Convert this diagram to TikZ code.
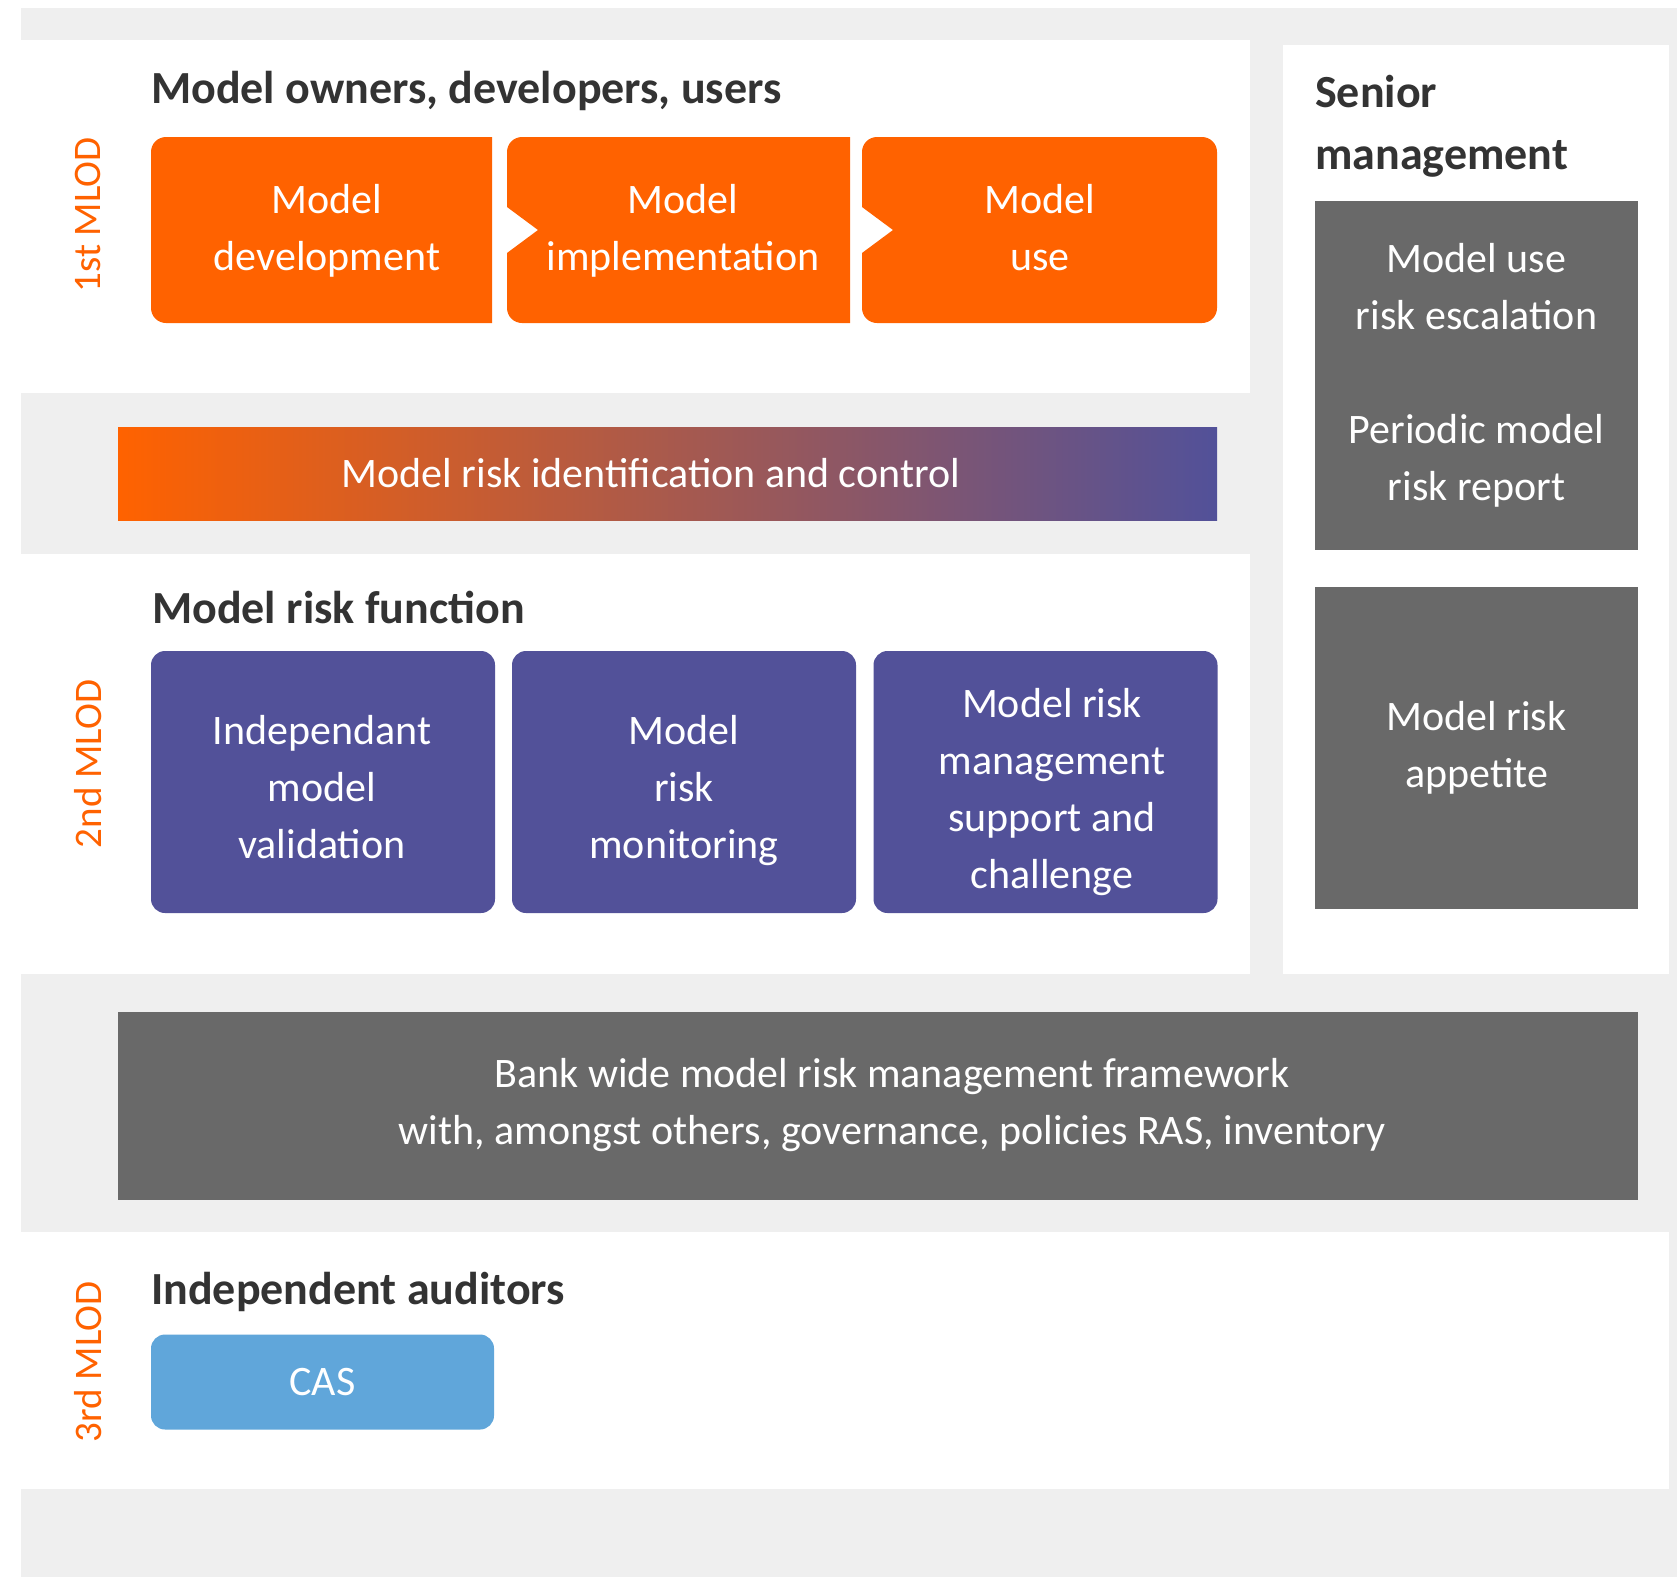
\documentclass[tikz,border=0pt]{standalone}
\usepackage{fontspec}
\setmainfont{Carlito}

\definecolor{ingorange}{HTML}{FF6200}
\definecolor{ingpurple}{HTML}{525199}
\definecolor{inggray}{HTML}{696969}
\definecolor{ingblue}{HTML}{60A6DA}
\definecolor{panelgray}{HTML}{EFEFEF}
\definecolor{headtext}{HTML}{333333}

\begin{document}
\begin{tikzpicture}
[
    x=1pt, y=-1pt,
    heading/.style={anchor=base west, inner sep=0pt, align=left, text=headtext,
        font=\fontsize{46}{62}\selectfont\bfseries},
    boxtext/.style={inner sep=0pt, align=center, text=white,
        font=\fontsize{42}{57}\selectfont},
    boxlabel/.style={boxtext, anchor=base},
    purplebox/.style={fill=ingpurple, rounded corners=14pt,
        minimum width=344pt, minimum height=262pt},
    graybox/.style={boxtext, fill=inggray, minimum width=323pt},
    lod/.style={rotate=90, inner sep=0pt, text=ingorange,
        font=\fontsize{39}{39}\selectfont},
    panel/.style={fill=white},
]
    \useasboundingbox (0,0) rectangle (1677,1577);
    \fill[panelgray] (21,8) rectangle (1677,1577);

    \fill[panel] (21,40) rectangle (1250,393);
    \fill[panel] (21,554) rectangle (1250,974);
    \fill[panel] (1283,45) rectangle (1669,974);
    \fill[panel] (21,1232) rectangle (1669,1489);

    % 1st line
    \node[heading] (owners) at (151,103) {Model owners, developers, users};
    \fill[ingorange] (492,137) -- (166,137) arc(270:180:15) -- (151,308)
        arc(180:90:15) -- (492,323) -- cycle;
    \fill[ingorange] (850,137) -- (522,137) arc(270:180:15) -- (507,207)
        -- (538,230) -- (507,253) -- (507,308) arc(180:90:15) -- (850,323) -- cycle;
    \fill[ingorange] (1202,137) -- (877,137) arc(270:180:15) -- (862,207)
        -- (893,230) -- (862,253) -- (862,308) arc(180:90:15) -- (1202,323)
        arc(90:0:15) -- (1217,152) arc(0:-90:15) -- cycle;
    \node[boxlabel] (development) at (327,270) {Model\\development};
    \node[boxlabel] (implementation) at (683,270) {Model\\implementation};
    \node[boxlabel] (use) at (1040,270) {Model\\use};
    \node[lod] (lod1) at (88,215) {1st MLOD};

    \node[left color=ingorange, right color=ingpurple, minimum width=1099pt,
        minimum height=93pt] (control) at (667.5,473.5) {};
    \node[boxlabel] (controltext) at (651,487) {Model risk identification and control};

    % 2nd line
    \node[heading] (riskfn) at (152,623) {Model risk function};
    \node[purplebox] (validation) at (323,782) {};
    \node[purplebox] (monitoring) at (684,782) {};
    \node[purplebox] (challenge) at (1045.5,782) {};
    \node[boxlabel] (validationtext) at (322,858) {Independant\\model\\validation};
    \node[boxlabel] (monitoringtext) at (684,858) {Model\\risk\\monitoring};
    \node[boxlabel] (challengetext) at (1052,888) {Model risk\\management\\support and\\challenge};
    \node[lod] (lod2) at (88,764) {2nd MLOD};

    % senior management
    \node[heading] (senior) at (1315,169) {Senior\\management};
    \node[graybox, minimum height=349pt] (escalation) at (1476.5,375.5)
        {Model use\\risk escalation\\[57pt]Periodic model\\risk report};
    \node[graybox, minimum height=322pt] (appetite) at (1476.5,748) {Model risk\\appetite};

    \node[fill=inggray, minimum width=1520pt, minimum height=188pt] (framework) at (878,1106) {};
    \node[boxlabel] (frameworktext) at (892,1144)
        {Bank wide model risk management framework\\with, amongst others, governance, policies RAS, inventory};

    % 3rd line
    \node[heading] (auditors) at (151,1304) {Independent auditors};
    \node[boxtext, fill=ingblue, rounded corners=14pt, minimum width=343pt,
        minimum height=95pt] (cas) at (322.5,1382) {CAS};
    \node[lod] (lod3) at (88,1362) {3rd MLOD};
\end{tikzpicture}
\end{document}
